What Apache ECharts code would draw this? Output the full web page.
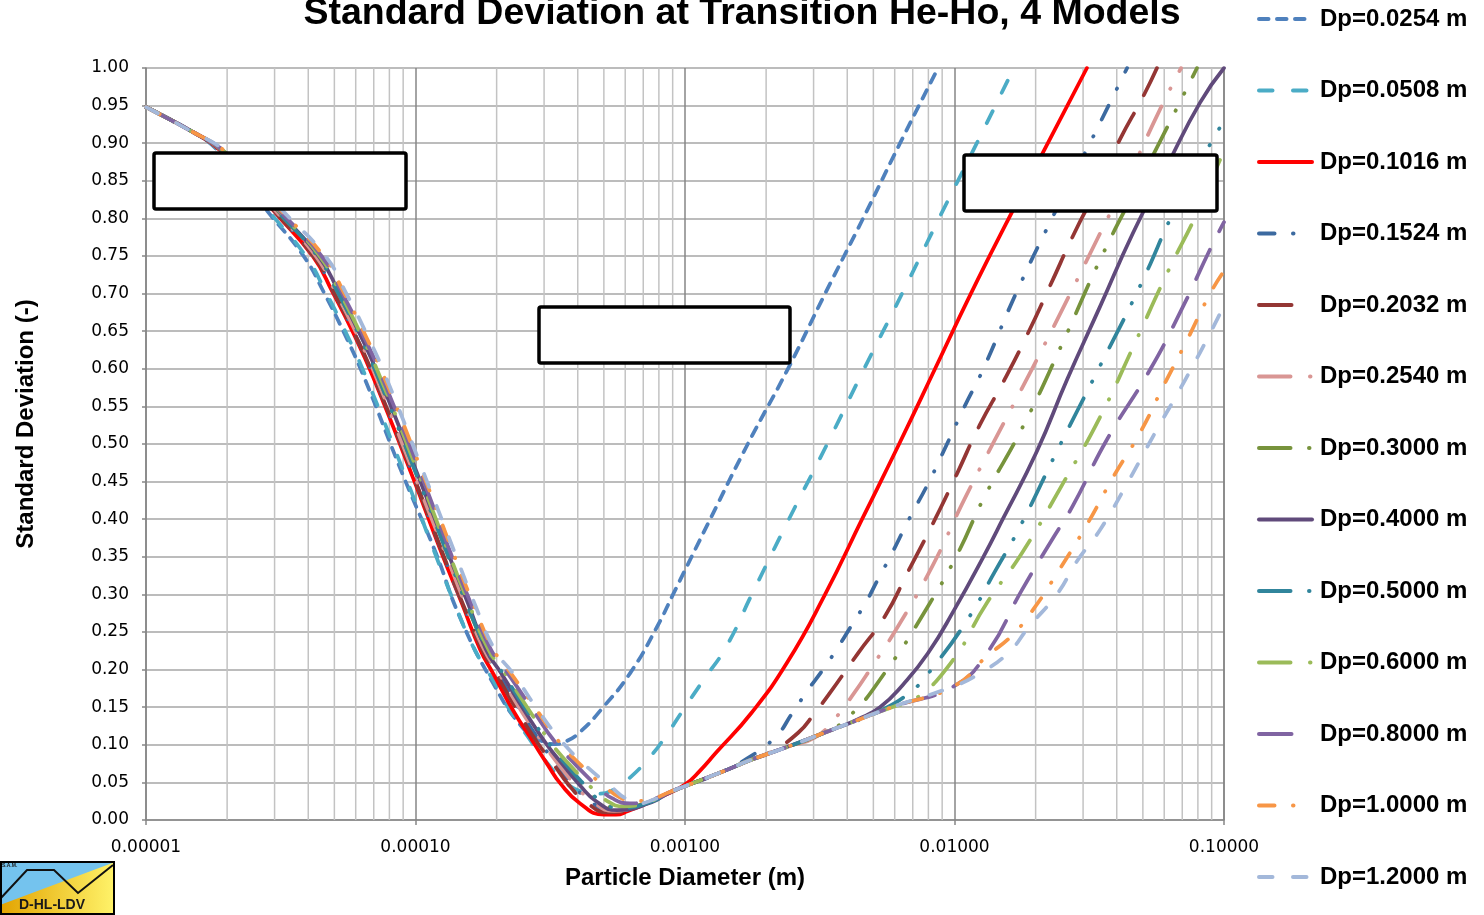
<!DOCTYPE html>
<html><head><meta charset="utf-8">
<script src="https://cdn.jsdelivr.net/npm/echarts@6/dist/echarts.min.js"></script>
<style>html,body{margin:0;padding:0;background:#fff}#c{width:1484px;height:915px}</style>
</head><body><div id="c"></div>
<script>
const titleText = 'Standard Deviation at Transition He-Ho, 4 Models';
const xAxisName = 'Particle Diameter (m)';
const yAxisName = 'Standard Deviation (-)';
const xTickLabels = ['0.00001', '0.00010', '0.00100', '0.01000', '0.10000'];
const seriesNames = ['Dp=0.0254 m','Dp=0.0508 m','Dp=0.1016 m','Dp=0.1524 m','Dp=0.2032 m','Dp=0.2540 m','Dp=0.3000 m','Dp=0.4000 m','Dp=0.5000 m','Dp=0.6000 m','Dp=0.8000 m','Dp=1.0000 m','Dp=1.2000 m'];

const dp0254 = [[1.00e-5,0.948],[1.49e-5,0.915],[1.84e-5,0.891],[2.28e-5,0.853],[2.80e-5,0.811],[3.86e-5,0.749],[4.58e-5,0.701],[5.43e-5,0.648],[6.44e-5,0.589],[9.07e-5,0.455],[1.19e-4,0.355],[1.46e-4,0.27],[1.94e-4,0.182],[2.48e-4,0.124],[2.90e-4,0.106],[3.29e-4,0.101],[3.59e-4,0.104],[4.08e-4,0.117],[4.97e-4,0.150],[6.25e-4,0.195],[7.88e-4,0.257],[9.03e-4,0.30],[1.24e-3,0.40],[1.71e-3,0.50],[2.41e-3,0.60],[3.31e-3,0.70],[4.58e-3,0.80],[6.28e-3,0.90],[8.69e-3,1.0]];
const dp0508 = [[1.00e-5,0.948],[1.49e-5,0.915],[1.85e-5,0.891],[2.30e-5,0.853],[2.84e-5,0.811],[3.93e-5,0.749],[4.66e-5,0.701],[5.52e-5,0.648],[6.55e-5,0.589],[9.22e-5,0.455],[1.18e-4,0.355],[1.40e-4,0.287],[1.66e-4,0.226],[1.94e-4,0.186],[2.24e-4,0.146],[2.62e-4,0.110],[3.08e-4,0.076],[3.59e-4,0.050],[4.26e-4,0.037],[4.84e-4,0.035],[5.41e-4,0.040],[6.10e-4,0.053],[7.42e-4,0.084],[8.43e-4,0.110],[9.83e-4,0.146],[1.17e-3,0.186],[1.42e-3,0.230],[1.77e-3,0.300],[2.43e-3,0.400],[3.37e-3,0.500],[4.62e-3,0.600],[6.39e-3,0.700],[8.76e-3,0.800],[1.21e-2,0.900],[1.66e-2,1.000]];
const dp1016 = [[1.00e-5,0.948],[1.49e-5,0.915],[1.88e-5,0.891],[2.37e-5,0.853],[2.96e-5,0.811],[4.17e-5,0.749],[4.94e-5,0.701],[5.87e-5,0.648],[6.96e-5,0.589],[9.79e-5,0.455],[1.25e-4,0.355],[1.49e-4,0.287],[1.74e-4,0.226],[1.94e-4,0.195],[2.30e-4,0.146],[2.73e-4,0.104],[3.10e-4,0.073],[3.44e-4,0.049],[4.08e-4,0.022],[5.01e-4,0.007],[5.55e-4,0.007],[6.15e-4,0.012],[7.11e-4,0.021],[8.29e-4,0.032],[1.00e-3,0.047],[1.14e-3,0.066],[1.30e-3,0.089],[1.76e-3,0.142],[2.39e-3,0.209],[3.31e-3,0.300],[4.54e-3,0.400],[6.23e-3,0.500],[8.47e-3,0.600],[1.15e-2,0.700],[1.59e-2,0.800],[2.22e-2,0.900],[3.10e-2,1.000]];
const dp1524 = [[1.00e-5,0.948],[1.49e-5,0.915],[1.89e-5,0.891],[2.38e-5,0.853],[2.98e-5,0.811],[4.20e-5,0.749],[4.99e-5,0.701],[5.92e-5,0.648],[7.02e-5,0.589],[9.88e-5,0.455],[1.26e-4,0.355],[1.50e-4,0.287],[1.80e-4,0.226],[2.02e-4,0.195],[2.44e-4,0.146],[2.90e-4,0.104],[3.35e-4,0.073],[3.84e-4,0.047],[4.44e-4,0.025],[5.36e-4,0.012],[5.99e-4,0.013],[6.81e-4,0.019],[7.74e-4,0.027],[8.65e-4,0.036],[1.00e-3,0.045],[1.35e-3,0.063],[1.67e-3,0.080],[2.16e-3,0.110],[2.50e-3,0.142],[2.86e-3,0.173],[3.25e-3,0.200],[3.70e-3,0.230],[4.17e-3,0.260],[4.70e-3,0.290],[5.20e-3,0.320],[5.77e-3,0.350],[6.78e-3,0.400],[8.05e-3,0.450],[9.38e-3,0.500],[1.09e-2,0.550],[1.28e-2,0.600],[1.69e-2,0.700],[2.30e-2,0.800],[3.18e-2,0.900],[4.37e-2,1.000]];
const dp2032 = [[1.00e-5,0.948],[1.49e-5,0.915],[1.89e-5,0.891],[2.38e-5,0.853],[2.98e-5,0.811],[4.20e-5,0.749],[4.99e-5,0.701],[5.92e-5,0.648],[7.02e-5,0.589],[9.88e-5,0.455],[1.26e-4,0.355],[1.50e-4,0.287],[1.77e-4,0.226],[1.99e-4,0.195],[2.38e-4,0.146],[2.82e-4,0.104],[3.27e-4,0.073],[3.68e-4,0.048],[4.29e-4,0.024],[5.18e-4,0.010],[5.79e-4,0.011],[6.58e-4,0.017],[7.55e-4,0.026],[8.58e-4,0.035],[1.00e-3,0.045],[1.35e-3,0.063],[1.76e-3,0.080],[2.07e-3,0.090],[2.63e-3,0.116],[3.04e-3,0.143],[3.45e-3,0.169],[4.39e-3,0.222],[5.52e-3,0.271],[6.72e-3,0.330],[8.47e-3,0.400],[1.02e-2,0.460],[1.24e-2,0.525],[1.53e-2,0.585],[1.86e-2,0.645],[2.26e-2,0.710],[2.78e-2,0.780],[3.38e-2,0.840],[4.11e-2,0.905],[5.01e-2,0.962],[5.64e-2,1.000]];
const dp2540 = [[1.00e-5,0.948],[1.49e-5,0.915],[1.90e-5,0.891],[2.40e-5,0.853],[3.01e-5,0.811],[4.28e-5,0.749],[5.07e-5,0.701],[6.02e-5,0.648],[7.14e-5,0.589],[1.00e-4,0.455],[1.29e-4,0.355],[1.53e-4,0.287],[1.80e-4,0.226],[2.04e-4,0.195],[2.46e-4,0.146],[2.95e-4,0.104],[3.41e-4,0.073],[3.91e-4,0.047],[4.52e-4,0.025],[5.45e-4,0.012],[6.10e-4,0.014],[6.87e-4,0.020],[7.74e-4,0.027],[8.65e-4,0.036],[1.00e-3,0.045],[1.35e-3,0.063],[1.76e-3,0.080],[2.39e-3,0.097],[3.04e-3,0.110],[3.60e-3,0.135],[4.17e-3,0.165],[4.86e-3,0.200],[6.28e-3,0.262],[8.26e-3,0.337],[1.09e-2,0.427],[1.41e-2,0.505],[1.96e-2,0.603],[2.62e-2,0.692],[3.38e-2,0.772],[4.48e-2,0.860],[5.79e-2,0.945],[6.93e-2,1.000]];
const dp3000 = [[1.00e-5,0.948],[1.49e-5,0.915],[1.91e-5,0.891],[2.42e-5,0.853],[3.05e-5,0.811],[4.35e-5,0.749],[5.16e-5,0.701],[6.12e-5,0.648],[7.26e-5,0.589],[1.02e-4,0.455],[1.31e-4,0.355],[1.55e-4,0.287],[1.84e-4,0.226],[2.09e-4,0.195],[2.55e-4,0.146],[3.05e-4,0.104],[3.59e-4,0.073],[4.15e-4,0.046],[4.76e-4,0.026],[5.60e-4,0.016],[6.25e-4,0.017],[7.05e-4,0.022],[7.88e-4,0.028],[8.73e-4,0.036],[1.00e-3,0.045],[1.35e-3,0.063],[1.76e-3,0.080],[2.39e-3,0.097],[3.04e-3,0.111],[3.96e-3,0.134],[5.62e-3,0.200],[8.12e-3,0.289],[1.03e-2,0.355],[1.28e-2,0.427],[1.80e-2,0.524],[2.53e-2,0.636],[3.47e-2,0.745],[4.88e-2,0.850],[7.05e-2,0.963],[7.94e-2,1.000]];
const dp4000 = [[1.00e-5,0.948],[1.49e-5,0.915],[1.91e-5,0.891],[2.43e-5,0.853],[3.07e-5,0.811],[4.39e-5,0.749],[5.21e-5,0.701],[6.18e-5,0.648],[7.33e-5,0.589],[1.03e-4,0.455],[1.32e-4,0.355],[1.57e-4,0.287],[1.83e-4,0.226],[2.08e-4,0.195],[2.53e-4,0.146],[3.02e-4,0.104],[3.53e-4,0.073],[4.08e-4,0.046],[4.68e-4,0.025],[5.60e-4,0.013],[6.25e-4,0.014],[7.05e-4,0.020],[7.88e-4,0.027],[8.73e-4,0.036],[1.00e-3,0.045],[1.35e-3,0.063],[1.76e-3,0.080],[2.39e-3,0.097],[3.76e-3,0.124],[4.39e-3,0.134],[5.29e-3,0.150],[6.44e-3,0.180],[7.98e-3,0.222],[1.00e-2,0.280],[1.28e-2,0.350],[1.51e-2,0.400],[2.02e-2,0.490],[2.62e-2,0.586],[3.47e-2,0.683],[4.60e-2,0.781],[6.15e-2,0.870],[8.15e-2,0.954],[1.00e-1,1.000]];
const dp5000 = [[1.00e-5,0.948],[1.49e-5,0.915],[1.91e-5,0.891],[2.42e-5,0.853],[3.05e-5,0.811],[4.35e-5,0.749],[5.16e-5,0.701],[6.12e-5,0.648],[7.26e-5,0.589],[1.02e-4,0.455],[1.31e-4,0.355],[1.55e-4,0.287],[1.85e-4,0.226],[2.11e-4,0.195],[2.58e-4,0.146],[3.09e-4,0.104],[3.63e-4,0.073],[4.26e-4,0.046],[4.84e-4,0.026],[5.74e-4,0.016],[6.36e-4,0.017],[7.17e-4,0.022],[7.94e-4,0.028],[8.73e-4,0.036],[1.00e-3,0.045],[1.35e-3,0.063],[1.76e-3,0.080],[2.39e-3,0.097],[3.76e-3,0.124],[5.29e-3,0.145],[6.96e-3,0.172],[8.12e-3,0.198],[1.12e-2,0.267],[1.41e-2,0.330],[1.75e-2,0.390],[2.42e-2,0.493],[3.47e-2,0.604],[4.88e-2,0.710],[6.75e-2,0.820],[1.00e-1,0.930]];
const dp6000 = [[1.00e-5,0.948],[1.49e-5,0.915],[1.92e-5,0.891],[2.44e-5,0.853],[3.09e-5,0.811],[4.43e-5,0.749],[5.25e-5,0.701],[6.23e-5,0.648],[7.39e-5,0.589],[1.04e-4,0.455],[1.33e-4,0.355],[1.58e-4,0.287],[1.87e-4,0.226],[2.15e-4,0.195],[2.64e-4,0.146],[3.16e-4,0.104],[3.74e-4,0.073],[4.44e-4,0.045],[5.05e-4,0.027],[5.94e-4,0.018],[6.53e-4,0.019],[7.29e-4,0.024],[8.08e-4,0.030],[8.80e-4,0.037],[1.00e-3,0.045],[1.35e-3,0.063],[1.76e-3,0.080],[2.39e-3,0.097],[3.76e-3,0.124],[5.97e-3,0.151],[6.96e-3,0.158],[9.70e-3,0.209],[1.32e-2,0.289],[1.78e-2,0.355],[2.53e-2,0.448],[3.47e-2,0.536],[4.60e-2,0.629],[6.15e-2,0.727],[7.94e-2,0.807],[9.67e-2,0.878],[1.00e-1,0.885]];
const dp8000 = [[1.00e-5,0.948],[1.49e-5,0.915],[1.93e-5,0.891],[2.46e-5,0.853],[3.12e-5,0.811],[4.50e-5,0.749],[5.34e-5,0.701],[6.33e-5,0.648],[7.51e-5,0.589],[1.06e-4,0.455],[1.35e-4,0.355],[1.61e-4,0.287],[1.91e-4,0.226],[2.20e-4,0.195],[2.73e-4,0.146],[3.29e-4,0.104],[3.94e-4,0.073],[4.76e-4,0.044],[5.36e-4,0.029],[6.25e-4,0.022],[6.81e-4,0.023],[7.55e-4,0.027],[8.22e-4,0.032],[8.88e-4,0.038],[1.00e-3,0.045],[1.35e-3,0.063],[1.76e-3,0.080],[2.39e-3,0.097],[3.76e-3,0.124],[5.97e-3,0.151],[9.96e-3,0.178],[1.32e-2,0.222],[1.78e-2,0.306],[2.34e-2,0.377],[2.75e-2,0.418],[3.68e-2,0.506],[5.32e-2,0.599],[7.05e-2,0.683],[8.88e-2,0.759],[1.00e-1,0.795]];
const dp10000 = [[1.00e-5,0.948],[1.49e-5,0.915],[1.94e-5,0.891],[2.48e-5,0.853],[3.16e-5,0.811],[4.58e-5,0.749],[5.43e-5,0.701],[6.45e-5,0.648],[7.65e-5,0.589],[1.08e-4,0.455],[1.38e-4,0.355],[1.64e-4,0.287],[1.95e-4,0.226],[2.26e-4,0.195],[2.82e-4,0.146],[3.41e-4,0.104],[4.11e-4,0.073],[5.09e-4,0.043],[5.74e-4,0.030],[6.47e-4,0.025],[7.11e-4,0.026],[7.74e-4,0.029],[8.36e-4,0.034],[9.03e-4,0.039],[1.00e-3,0.045],[1.35e-3,0.063],[1.76e-3,0.080],[2.39e-3,0.097],[3.76e-3,0.124],[5.97e-3,0.151],[9.96e-3,0.178],[1.32e-2,0.218],[1.63e-2,0.245],[1.96e-2,0.280],[2.42e-2,0.330],[3.08e-2,0.391],[3.88e-2,0.456],[4.88e-2,0.515],[5.94e-2,0.576],[7.29e-2,0.638],[8.88e-2,0.700],[1.00e-1,0.730]];
const dp12000 = [[1.00e-5,0.948],[1.49e-5,0.915],[1.95e-5,0.891],[2.51e-5,0.853],[3.20e-5,0.811],[4.65e-5,0.749],[5.52e-5,0.701],[6.55e-5,0.648],[7.77e-5,0.589],[1.09e-4,0.455],[1.40e-4,0.355],[1.66e-4,0.287],[1.97e-4,0.226],[2.30e-4,0.195],[2.90e-4,0.142],[3.50e-4,0.104],[4.26e-4,0.073],[5.41e-4,0.042],[5.94e-4,0.030],[6.70e-4,0.022],[7.74e-4,0.028],[8.65e-4,0.036],[1.00e-3,0.045],[1.35e-3,0.063],[1.76e-3,0.080],[2.39e-3,0.097],[3.76e-3,0.124],[5.97e-3,0.151],[9.96e-3,0.178],[1.24e-2,0.195],[1.58e-2,0.222],[1.89e-2,0.257],[2.42e-2,0.302],[2.82e-2,0.342],[3.47e-2,0.386],[4.41e-2,0.450],[5.55e-2,0.515],[7.17e-2,0.585],[9.26e-2,0.660],[1.00e-1,0.685]];

const allData = [dp0254, dp0508, dp1016, dp1524, dp2032, dp2540, dp3000, dp4000, dp5000, dp6000, dp8000, dp10000, dp12000];

// styles
const colors = ['#4F81BD','#4BACC6','#FF0000','#3C6AA0','#943634','#D99694','#77933C','#604A7B','#31859C','#9BBB59','#8064A2','#F79646','#A3B8DA'];
const DASH = [9.5, 8.5];
const LONG = [13.5, 20.5];
const DDOT = [15.5, 18.5, 0.5, 18.5];
const LDASH = [32.5, 20.5];
const LDD = [31.5, 19.5, 0.5, 19.5];
const LDDD = [31.5, 18.5, 0.5, 18.5, 0.5, 18.5];
const dashes = [DASH, LONG, 'solid', DDOT, LDASH, LDD, LDDD, 'solid', LDDD, LDD, LDASH, DDOT, LONG];
const FONT = "'Liberation Sans', Arial, sans-serif";
const TICKFONT = "'DejaVu Sans', Verdana, sans-serif";

const minorVals = [];
for (let d = -5; d <= -2; d++) for (let k = 2; k <= 9; k++) minorVals.push([k * Math.pow(10, d), 0]);

const chart = echarts.init(document.getElementById('c'), null, {renderer: 'canvas'});

const series = [{
  type: 'custom', data: minorVals, silent: true, z: 1, animation: false, clip: false,
  encode: {x: 0, y: 1},
  renderItem: function (params, api) {
    const p0 = api.coord([api.value(0), 0]);
    const p1 = api.coord([api.value(0), 1]);
    return {type: 'line', shape: {x1: p0[0], y1: p0[1], x2: p1[0], y2: p1[1]},
      style: {stroke: '#C3C3C3', lineWidth: 1.5}};
  }
}].concat(allData.map((d, i) => ({
  name: seriesNames[i], type: 'line', data: d, symbol: 'none', showSymbol: false,
  smooth: 0.5, z: 3, animation: false,
  lineStyle: {color: colors[i], width: 3.75, type: dashes[i], cap: 'round', join: 'round'},
  itemStyle: {color: colors[i]}
})));

const legends = seriesNames.map((n, i) => ({
  data: [n], orient: 'vertical', left: 1257, top: 7 + 71.5 * i, padding: 0,
  itemWidth: 53, itemHeight: 14, selectedMode: false,
  itemStyle: {opacity: 0},
  lineStyle: {width: 4},
  textStyle: {fontSize: 24, fontWeight: 'bold', fontFamily: FONT, color: '#000', padding: [0, 0, 0, 3]}
}));

const option = {
  backgroundColor: '#fff',
  animation: false,
  title: {text: titleText, left: 'center', top: -5, padding: 0,
    textStyle: {fontSize: 37.5, fontWeight: 'bold', fontFamily: FONT, color: '#000'}},
  legend: legends,
  grid: {left: 146, right: 260, top: 68, bottom: 95},
  xAxis: {
    type: 'log', logBase: 10, min: 1e-5, max: 0.1,
    name: xAxisName, nameLocation: 'middle', nameGap: 46,
    nameTextStyle: {fontSize: 24, fontWeight: 'bold', fontFamily: FONT, color: '#000'},
    axisLine: {show: true, lineStyle: {color: '#868686', width: 1.5}},
    axisTick: {show: true, length: 5, lineStyle: {color: '#868686', width: 1.5}},
    axisLabel: {margin: 19, fontSize: 17, fontFamily: TICKFONT, color: '#000',
      formatter: v => xTickLabels[Math.round(Math.log10(v)) + 5]},
    splitLine: {show: true, lineStyle: {color: '#868686', width: 1.5}},
    minorTick: {show: false}, minorSplitLine: {show: false}
  },
  yAxis: {
    type: 'value', min: 0, max: 1, interval: 0.05,
    name: yAxisName, nameLocation: 'middle', nameGap: 108, nameRotate: 90,
    nameTextStyle: {fontSize: 24, fontWeight: 'bold', fontFamily: FONT, color: '#000', padding: [0, 0, 0, 40]},
    axisLine: {show: true, lineStyle: {color: '#868686', width: 1.5}},
    axisTick: {show: true, length: 4, lineStyle: {color: '#868686', width: 1.5}},
    axisLabel: {margin: 17, fontSize: 17, fontFamily: TICKFONT, color: '#000', formatter: v => v.toFixed(2)},
    splitLine: {show: true, lineStyle: {color: '#A6A6A6', width: 1.5}}
  },
  series: series,
  graphic: [
    {type: 'rect', z: 100, shape: {x: 154, y: 153, width: 252, height: 56, r: 2}, style: {fill: '#fff', stroke: '#000', lineWidth: 3.5}},
    {type: 'rect', z: 100, shape: {x: 539, y: 307, width: 251, height: 56, r: 2}, style: {fill: '#fff', stroke: '#000', lineWidth: 3.5}},
    {type: 'rect', z: 100, shape: {x: 964, y: 155, width: 253, height: 56, r: 2}, style: {fill: '#fff', stroke: '#000', lineWidth: 3.5}},
    {type: 'group', z: 100, children: [
      {type: 'rect', shape: {x: 0, y: 862, width: 115, height: 53}, style: {fill: '#74C3EE'}},
      {type: 'polygon', shape: {points: [[0, 905], [115, 862], [115, 915], [0, 915]]},
        style: {fill: new echarts.graphic.LinearGradient(0, 0, 1, 0, [{offset: 0, color: '#E2A300'}, {offset: 1, color: '#FFF36A'}])}},
      {type: 'polyline', shape: {points: [[0, 899], [27, 870], [54, 870], [78, 893], [113, 865]]}, style: {stroke: '#111', lineWidth: 2, fill: null}},
      {type: 'rect', shape: {x: 1, y: 862, width: 113, height: 52}, style: {fill: null, stroke: '#000', lineWidth: 2}},
      {type: 'text', style: {x: 52, y: 905, text: 'D-HL-LDV', align: 'center', verticalAlign: 'middle', font: "bold 14px 'Liberation Sans', Arial", fill: '#1a1a1a'}},
      {type: 'text', style: {x: 2, y: 866, text: 'S.A.M.', align: 'left', verticalAlign: 'middle', font: "bold 5px 'Liberation Sans', Arial", fill: '#1a1a1a'}}
    ]}
  ]
};
chart.setOption(option);
</script>
</body></html>
